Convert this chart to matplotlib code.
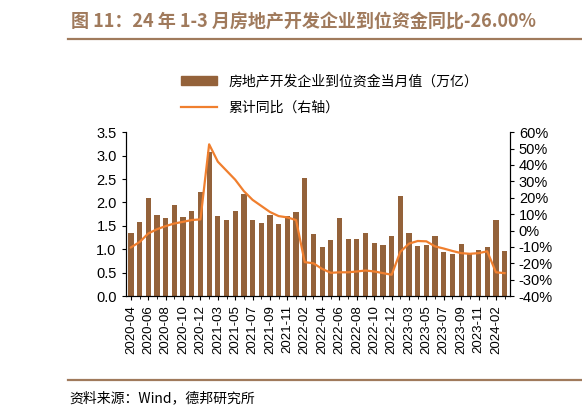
import matplotlib
matplotlib.use("Agg")
import matplotlib.pyplot as plt
from matplotlib.ticker import FuncFormatter
from matplotlib.lines import Line2D
from matplotlib.patches import Patch

plt.rcParams['font.family'] = ['Noto Sans CJK SC', 'DejaVu Sans']

months = (["2020-%02d" % m for m in range(4, 13)] +
          ["2021-%02d" % m for m in range(2, 13)] +
          ["2022-%02d" % m for m in range(2, 13)] +
          ["2023-%02d" % m for m in range(2, 13)] +
          ["2024-02", "2024-03"])
funds = [1.35, 1.58, 2.09, 1.74, 1.66, 1.95, 1.68, 1.82, 2.22,
         3.08, 1.71, 1.63, 1.81, 2.17, 1.63, 1.55, 1.73, 1.53, 1.70, 1.79,
         2.53, 1.32, 1.05, 1.20, 1.66, 1.21, 1.22, 1.35, 1.13, 1.09, 1.28,
         2.14, 1.34, 1.06, 1.09, 1.29, 0.95, 0.90, 1.11, 0.92, 0.99, 1.05,
         1.63, 0.96]
yoy = [-10.3, -7.0, -1.8, 0.8, 2.7, 4.3, 5.3, 6.4, 6.8,
       52.6, 42.0, 36.5, 31.0, 24.0, 18.7, 15.0, 11.3, 8.8, 8.0, 6.4,
       -19.3, -20.0, -23.4, -25.8, -25.5, -25.5, -25.0, -24.4, -25.0, -26.0, -27.0,
       -13.0, -8.0, -6.4, -6.6, -9.7, -11.0, -12.5, -13.8, -14.2, -13.8, -12.7,
       -25.5, -26.0]

bar_c = '#94623A'
line_c = '#F07F2E'
brown = '#A07A5C'

fig = plt.figure(figsize=(5.82, 4.17), dpi=100)
ax = fig.add_axes([0.216, 0.29, 0.66, 0.393])
x = list(range(len(months)))
ax.bar(x, funds, width=0.6, color=bar_c)
ax.set_ylim(0, 3.5)
ax.set_yticks([i * 0.5 for i in range(8)])
ax.yaxis.set_major_formatter(FuncFormatter(lambda v, p: "%.1f" % v))
ax.set_xlim(-0.6, len(months) - 0.4)
ax.set_xticks(x[::2])
ax.set_xticklabels(months[::2], rotation=90, family='Liberation Sans', fontsize=9.5)
ax.set_xticks(x, minor=True)
ax.spines['top'].set_visible(False)
ax2 = ax.twinx()
ax2.plot(x, yoy, color=line_c, lw=1.6)
ax2.set_ylim(-40, 60)
ax2.set_yticks(range(-40, 61, 10))
ax2.yaxis.set_major_formatter(FuncFormatter(lambda v, p: "%d%%" % v))
ax2.spines['top'].set_visible(False)
for a in (ax, ax2):
    for lab in a.get_yticklabels():
        lab.set_family('Liberation Sans')
        lab.set_fontsize(10.5)
    a.tick_params(direction='out', length=3)

fig.text(0.122, 0.947, "图 11：24 年 1-3 月房地产开发企业到位资金同比-26.00%",
         fontsize=13, fontweight='bold', color=brown, va='center')
fig.add_artist(Line2D([0.117, 1.0], [0.906, 0.906], color=brown, lw=1.6))
fig.add_artist(Line2D([0.117, 1.0], [0.088, 0.088], color=brown, lw=1.6))
fig.text(0.12, 0.045, "资料来源：Wind，德邦研究所", fontsize=10, va='center')

h = [Patch(color=bar_c), Line2D([], [], color=line_c, lw=1.6)]
fig.legend(h, ["房地产开发企业到位资金当月值（万亿）", "累计同比（右轴）"],
           loc='center left', bbox_to_anchor=(0.29, 0.773), frameon=False,
           fontsize=10, handlelength=2.6, labelspacing=0.9)
fig.savefig("out.png", dpi=100)
